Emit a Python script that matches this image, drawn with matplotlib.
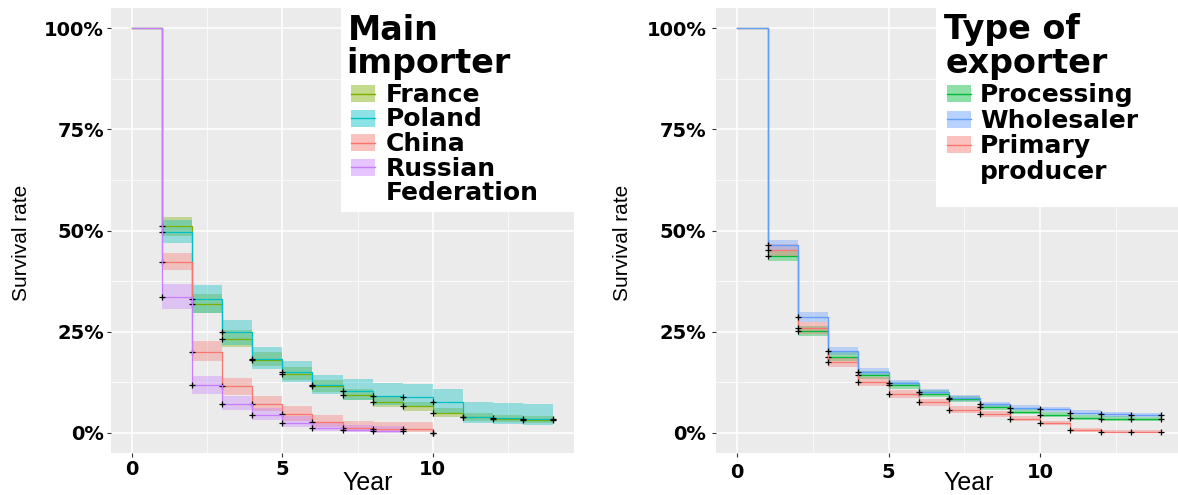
import numpy as np
import matplotlib.pyplot as plt
from matplotlib.patches import Rectangle

W, H = 1178, 495

# ---- left panel: main importer (Kaplan-Meier, yearly steps) ----
imp_labels = ['France', 'Poland', 'China', 'Russian\nFederation']
imp_colors = ['#7CAE00', '#00BFC4', '#F8766D', '#C77CFF']
imp_end = [14, 14, 10, 9]

france_surv = [1.0, 0.51, 0.318, 0.232, 0.181, 0.146, 0.116, 0.094, 0.076, 0.065, 0.05, 0.039, 0.035, 0.032]
france_hi = [1.0, 0.534, 0.342, 0.253, 0.20, 0.162, 0.131, 0.108, 0.089, 0.077, 0.061, 0.048, 0.044, 0.041]
france_lo = [1.0, 0.486, 0.297, 0.212, 0.165, 0.13, 0.101, 0.081, 0.064, 0.054, 0.04, 0.03, 0.027, 0.024]

poland_surv = [1.0, 0.497, 0.33, 0.248, 0.183, 0.15, 0.118, 0.103, 0.09, 0.089, 0.075, 0.04, 0.036, 0.034]
poland_hi = [1.0, 0.525, 0.365, 0.28, 0.212, 0.178, 0.143, 0.133, 0.124, 0.12, 0.108, 0.076, 0.074, 0.072]
poland_lo = [1.0, 0.47, 0.297, 0.218, 0.158, 0.125, 0.096, 0.08, 0.068, 0.064, 0.05, 0.025, 0.022, 0.02]

china_surv = [1.0, 0.423, 0.199, 0.115, 0.07, 0.046, 0.027, 0.013, 0.009, 0.009, 0.0]
china_hi = [1.0, 0.445, 0.226, 0.136, 0.09, 0.065, 0.043, 0.029, 0.026, 0.026, 0.0]
china_lo = [1.0, 0.403, 0.178, 0.094, 0.053, 0.03, 0.015, 0.004, 0.002, 0.002, 0.0]

russia_surv = [1.0, 0.335, 0.117, 0.072, 0.045, 0.024, 0.011, 0.008, 0.005]
russia_hi = [1.0, 0.367, 0.14, 0.09, 0.062, 0.041, 0.024, 0.018, 0.016]
russia_lo = [1.0, 0.305, 0.095, 0.056, 0.032, 0.014, 0.004, 0.002, 0.0]

# ---- right panel: type of exporter ----
exp_labels = ['Processing', 'Wholesaler', 'Primary\nproducer']
exp_colors = ['#00BA38', '#619CFF', '#F8766D']
exp_end = [14, 14, 14]

proc_surv = [1.0, 0.437, 0.252, 0.188, 0.142, 0.117, 0.097, 0.083, 0.064, 0.052, 0.045, 0.037, 0.035, 0.034]
proc_hi = [1.0, 0.449, 0.264, 0.199, 0.152, 0.126, 0.105, 0.091, 0.071, 0.059, 0.052, 0.043, 0.041, 0.040]
proc_lo = [1.0, 0.425, 0.240, 0.177, 0.132, 0.108, 0.089, 0.075, 0.057, 0.046, 0.039, 0.031, 0.029, 0.028]

whole_surv = [1.0, 0.464, 0.286, 0.202, 0.151, 0.123, 0.102, 0.086, 0.07, 0.062, 0.058, 0.05, 0.046, 0.044]
whole_hi = [1.0, 0.476, 0.298, 0.212, 0.160, 0.131, 0.109, 0.093, 0.076, 0.068, 0.064, 0.056, 0.052, 0.050]
whole_lo = [1.0, 0.452, 0.274, 0.192, 0.142, 0.115, 0.095, 0.079, 0.064, 0.056, 0.052, 0.044, 0.040, 0.038]

prim_surv = [1.0, 0.452, 0.259, 0.175, 0.126, 0.095, 0.075, 0.057, 0.046, 0.035, 0.023, 0.007, 0.003, 0.003]
prim_hi = [1.0, 0.466, 0.274, 0.187, 0.137, 0.105, 0.084, 0.065, 0.053, 0.041, 0.029, 0.011, 0.006, 0.006]
prim_lo = [1.0, 0.438, 0.245, 0.163, 0.116, 0.086, 0.067, 0.050, 0.040, 0.029, 0.018, 0.003, 0.001, 0.001]

imp_series = [(france_surv, france_lo, france_hi), (poland_surv, poland_lo, poland_hi),
              (china_surv, china_lo, china_hi), (russia_surv, russia_lo, russia_hi)]
exp_series = [(proc_surv, proc_lo, proc_hi), (whole_surv, whole_lo, whole_hi),
              (prim_surv, prim_lo, prim_hi)]

fig = plt.figure(figsize=(W / 100, H / 100), dpi=100)


def px_rect(x0, y0, x1, y1):
    return [x0 / W, 1 - y1 / H, (x1 - x0) / W, (y1 - y0) / H]


def draw_km(ax, series, colors, ends, order):
    for i in order:
        s, lo, hi = series[i]
        c, end = colors[i], ends[i]
        t = np.arange(len(s))
        tt = np.append(t, end)
        ss = np.append(s, s[-1])
        ax.fill_between(tt, np.append(lo, lo[-1]), np.append(hi, hi[-1]),
                        step='post', color=c, alpha=0.36, linewidth=0)
        ax.step(tt, ss, where='post', color=c, lw=0.9)
        ax.plot(tt[1:], ss[1:], '+', color='black', ms=5, mew=0.9)


def style_axes(ax, xmax):
    ax.set_facecolor('#EBEBEB')
    for sp in ax.spines.values():
        sp.set_visible(False)
    ax.set_xlim(-0.7, xmax)
    ax.set_ylim(-0.05, 1.05)
    ax.set_xticks([0, 5, 10])
    ax.set_xticks([2.5, 7.5, 12.5], minor=True)
    ax.set_yticks([0, 0.25, 0.5, 0.75, 1.0])
    ax.set_yticks([0.125, 0.375, 0.625, 0.875], minor=True)
    ax.set_xticklabels(['0', '5', '10'], fontweight='bold', fontsize=14)
    ax.set_yticklabels(['0%', '25%', '50%', '75%', '100%'], fontweight='bold', fontsize=14)
    ax.grid(which='major', color='white', lw=1.1)
    ax.grid(which='minor', color='white', lw=0.5)
    ax.set_axisbelow(True)
    ax.tick_params(which='major', length=3, width=0.8, color='#333333', pad=2)
    ax.tick_params(which='minor', length=0)


def legend_keys(labels, colors, x_key, x_text, base0, step):
    y = base0
    for lab, c in zip(labels, colors):
        fig.add_artist(Rectangle((x_key / W, 1 - y / H), 24 / W, 17 / H,
                                 transform=fig.transFigure, facecolor=c,
                                 alpha=0.45, edgecolor='none', zorder=3))
        fig.add_artist(plt.Line2D([x_key / W, (x_key + 24) / W],
                                  [1 - (y - 8.5) / H] * 2, transform=fig.transFigure,
                                  color=c, lw=1, zorder=4))
        for line in lab.split('\n'):
            fig.text(x_text / W, 1 - y / H, line, fontsize=18, fontweight='bold',
                     va='baseline', zorder=3)
            y += step


ax1 = fig.add_axes(px_rect(111, 8, 574, 453))
style_axes(ax1, 14.7)
draw_km(ax1, imp_series, imp_colors, imp_end, [0, 1, 2, 3])

ax2 = fig.add_axes(px_rect(716, 8, 1178, 453))
style_axes(ax2, 14.55)
ax2.tick_params(which='major', pad=4)
draw_km(ax2, exp_series, exp_colors, exp_end, [0, 2, 1])

# legends drawn as white boxes inside the panels
fig.add_artist(Rectangle((341 / W, 1 - 212 / H), (574 - 341) / W, 204 / H,
                         transform=fig.transFigure, facecolor='white', edgecolor='none', zorder=2))
fig.text(348 / W, 1 - 40 / H, 'Main', fontsize=24, fontweight='bold', va='baseline', zorder=3)
fig.text(346 / W, 1 - 73 / H, 'importer', fontsize=24, fontweight='bold', va='baseline', zorder=3)

fig.add_artist(Rectangle((936 / W, 1 - 207 / H), (1178 - 936) / W, 200 / H,
                         transform=fig.transFigure, facecolor='white', edgecolor='none', zorder=2))
fig.text(944 / W, 1 - 39 / H, 'Type of', fontsize=24, fontweight='bold', va='baseline', zorder=3)
fig.text(946 / W, 1 - 73 / H, 'exporter', fontsize=24, fontweight='bold', va='baseline', zorder=3)

legend_keys(imp_labels, imp_colors, 351, 386, 102, 24.5)
legend_keys(exp_labels, exp_colors, 947, 980, 102, 25.5)

# axis titles
for xl, xy in [(22, 368), (622, 969)]:
    fig.text(xl / W, 1 - 243 / H, 'Survival rate', rotation=90, fontsize=15,
             family='Liberation Sans', ha='center', va='center')
    fig.text(xy / W, 1 - 483 / H, 'Year', fontsize=18, family='Liberation Sans',
             ha='center', va='center')

fig.savefig('out.png', dpi=100)
